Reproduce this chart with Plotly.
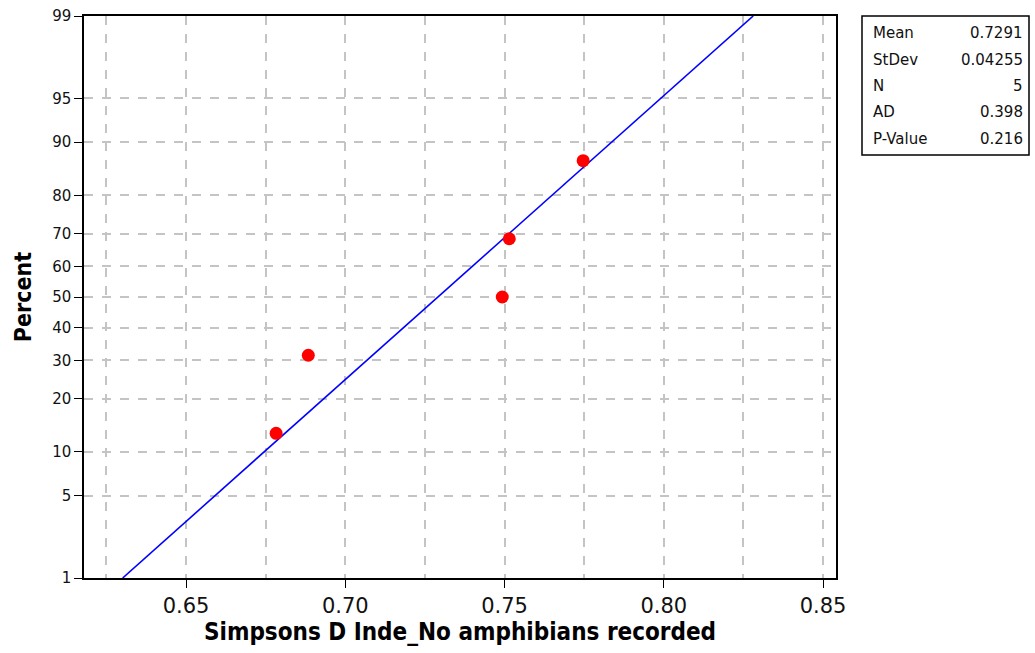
import numpy as np
import plotly.graph_objects as go
from statistics import NormalDist

# ---- data ----
x_values = [0.6783, 0.6884, 0.7493, 0.7515, 0.7747]
percents = [12.96, 31.48, 50.0, 68.52, 87.04]
mean_val = 0.7291
stdev_val = 0.04255
stat_labels = ["Mean", "StDev", "N", "AD", "P-Value"]
stat_values = ["0.7291", "0.04255", "5", "0.398", "0.216"]
y_tick_pcts = [1, 5, 10, 20, 30, 40, 50, 60, 70, 80, 90, 95, 99]
x_tick_vals = [0.65, 0.70, 0.75, 0.80, 0.85]
x_tick_text = ["0.65", "0.70", "0.75", "0.80", "0.85"]

nd = NormalDist()
def z(p):
    return nd.inv_cdf(p / 100.0)

ztop = z(99)
zbot = z(1)

fig = go.Figure()

# fitted line
line_z = [zbot, ztop]
line_x = [mean_val + zz * stdev_val for zz in line_z]
fig.add_trace(go.Scatter(x=line_x, y=line_z, mode="lines",
                         line=dict(color="#0000ff", width=1.6),
                         hoverinfo="skip", showlegend=False))

fig.add_trace(go.Scatter(x=x_values, y=[z(p) for p in percents], mode="markers",
                         marker=dict(color="#ff0000", size=13),
                         showlegend=False))

L, R, T, B = 84, 1035 - 836, 16, 653 - 578
W, H = 1035, 653
pw, ph = W - L - R, H - T - B

def px(xp):
    return (xp - L) / pw
def py(yp):
    return (H - B - yp) / ph

sans = "DejaVu Sans, sans-serif"
cond = "DejaVu Sans Condensed, DejaVu Sans, sans-serif"

fig.update_layout(
    width=W, height=H,
    margin=dict(l=L, r=R, t=T, b=B, autoexpand=False),
    plot_bgcolor="white", paper_bgcolor="white",
    xaxis=dict(
        range=[0.65 - 102 / 3185, 0.65 + 650 / 3185],
        tickvals=x_tick_vals, ticktext=x_tick_text,
        tickfont=dict(size=21, family=sans, color="#111"),
        ticks="outside", ticklen=8, tickcolor="black", tickwidth=1.2,
        showline=True, linecolor="black", linewidth=1.5, mirror=True,
        showgrid=True, gridcolor="#c4c4c4", griddash="dash", gridwidth=1.5,
        minor=dict(dtick=0.05, tick0=0.625, showgrid=True, gridcolor="#c4c4c4",
                   griddash="dash", gridwidth=1.5, ticks=""),
        zeroline=False, automargin=False,
        title=dict(text="<b>Simpsons D Inde_No amphibians recorded</b>",
                   font=dict(size=24, family=cond, color="black"),
                   standoff=6),
    ),
    yaxis=dict(
        range=[zbot, ztop],
        tickvals=[z(p) for p in y_tick_pcts], ticktext=[str(p) for p in y_tick_pcts],
        tickfont=dict(size=15, family=sans, color="#111"),
        ticks="outside", ticklen=8, tickcolor="black", tickwidth=1.2,
        showline=True, linecolor="black", linewidth=1.5, mirror=True,
        showgrid=True, gridcolor="#c4c4c4", griddash="dash", gridwidth=1.5,
        zeroline=False, automargin=False,
        title=dict(text="<b>Percent</b>",
                   font=dict(size=23, family=cond, color="black"),
                   standoff=14),
    ),
)

# stats box
fig.add_shape(type="rect", xref="paper", yref="paper",
              x0=px(862), x1=px(1029), y0=py(16), y1=py(155),
              line=dict(color="black", width=1.5), fillcolor="white")
row_y = [33, 60, 86, 112, 139]
for lab, val, ry in zip(stat_labels, stat_values, row_y):
    fig.add_annotation(xref="paper", yref="paper", x=px(871), y=py(ry),
                       text=lab, showarrow=False, xanchor="left", yanchor="middle",
                       font=dict(size=15, family=sans, color="#111"))
    fig.add_annotation(xref="paper", yref="paper", x=px(1025), y=py(ry),
                       text=val, showarrow=False, xanchor="right", yanchor="middle",
                       font=dict(size=15, family=sans, color="#111"))

fig.write_html("out.html")
